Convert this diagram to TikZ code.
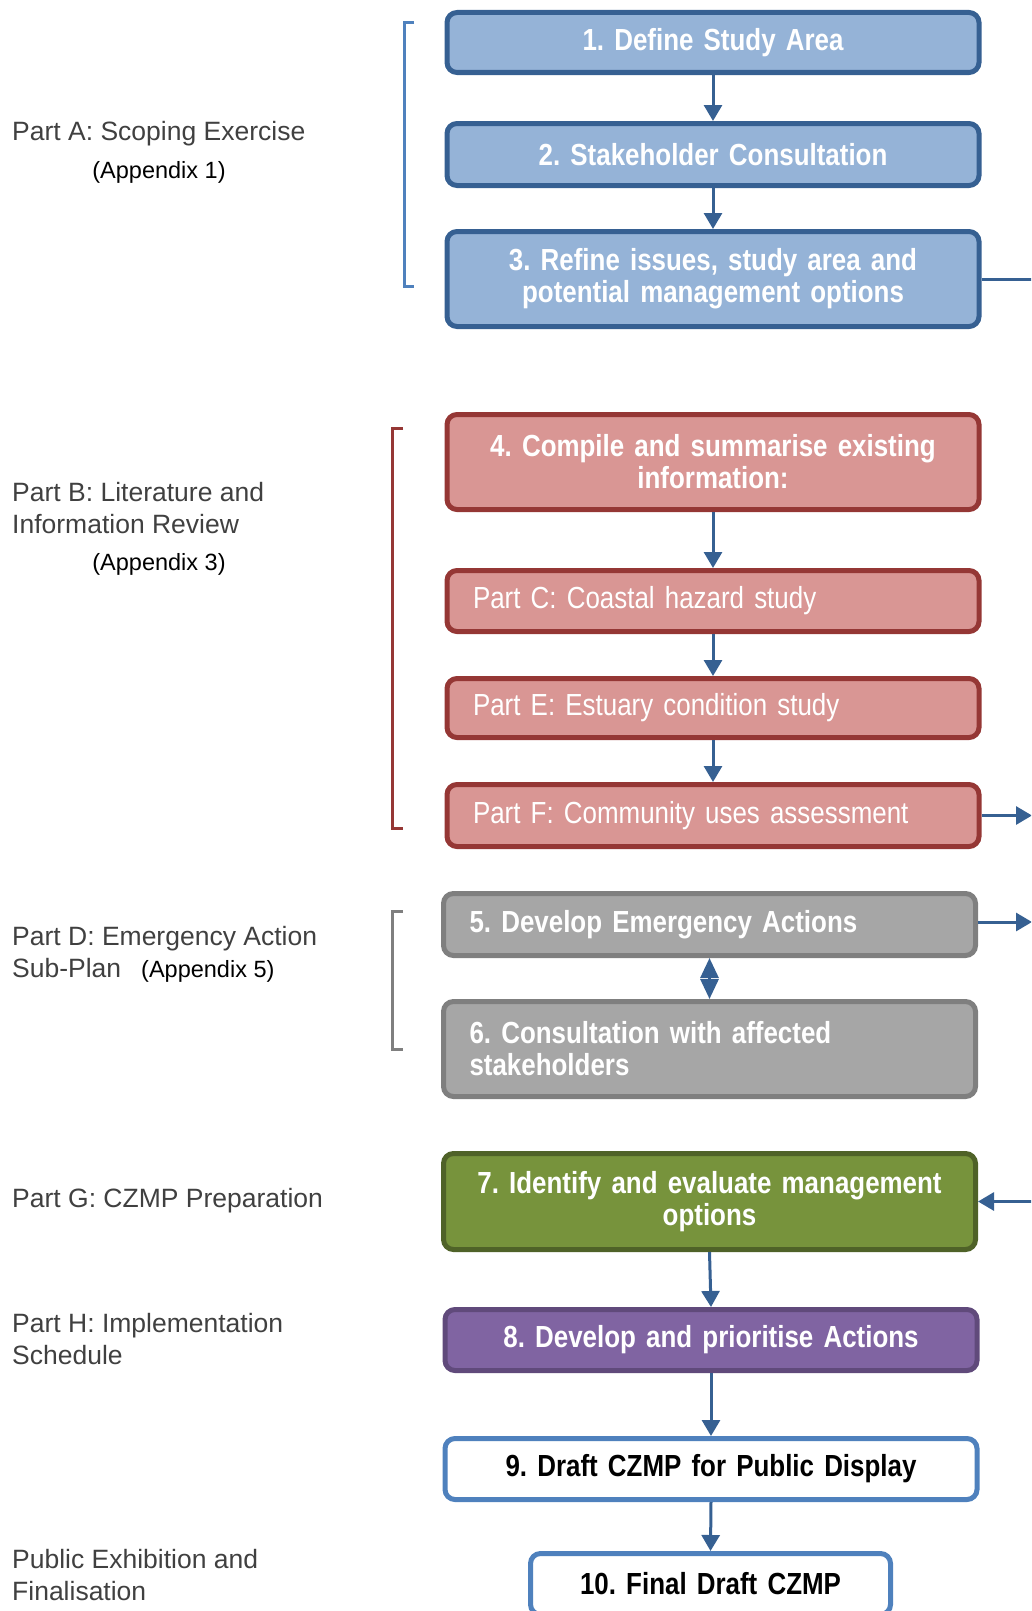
\documentclass[tikz,border=0pt]{standalone}
\usepackage{fontspec}
\setmainfont{Liberation Sans}
\newfontfamily\narrowfont[FakeStretch=0.85]{Liberation Sans}
\usetikzlibrary{arrows.meta}
\frenchspacing

\definecolor{scopeFill}{HTML}{95B3D7}
\definecolor{scopeLine}{HTML}{366092}
\definecolor{scopeBracket}{HTML}{4F81BD}
\definecolor{reviewFill}{HTML}{D99694}
\definecolor{reviewLine}{HTML}{953735}
\definecolor{emergFill}{HTML}{A6A6A6}
\definecolor{emergLine}{HTML}{7F7F7F}
\definecolor{prepFill}{HTML}{77933C}
\definecolor{prepLine}{HTML}{4F6228}
\definecolor{implFill}{HTML}{8064A2}
\definecolor{implLine}{HTML}{604A7B}
\definecolor{exhibLine}{HTML}{4F81BD}
\definecolor{arrowBlue}{HTML}{366092}
\definecolor{partGray}{HTML}{404040}

\tikzset{
  stage/.style={draw, line width=5pt, rounded corners=10pt, text width=480pt, inner xsep=26pt, inner ysep=0pt, align=center, text=white, font=\narrowfont\fontsize{30.5}{32}\selectfont\bfseries},
  scoping/.style={stage, fill=scopeFill, draw=scopeLine},
  review/.style={stage, fill=reviewFill, draw=reviewLine},
  study/.style={review, align=left, font=\narrowfont\fontsize{30.5}{32}\selectfont},
  emergency/.style={stage, fill=emergFill, draw=emergLine, align=left},
  prep/.style={stage, fill=prepFill, draw=prepLine},
  impl/.style={stage, fill=implFill, draw=implLine},
  exhib/.style={stage, fill=white, draw=exhibLine, text=black},
  flow/.style={draw=arrowBlue, line width=3pt, -{Triangle[length=16pt,width=18pt]}},
  twoway/.style={draw=arrowBlue, line width=3pt, {Triangle[length=20pt,width=18pt]}-{Triangle[length=20pt,width=18pt]}},
  link/.style={draw=arrowBlue, line width=3pt},
  part/.style={anchor=west, inner sep=0pt, align=left, text=partGray, font=\fontsize{26.5}{32}\selectfont},
  appx/.style={inner sep=0pt, font=\fontsize{23.5}{28}\selectfont},
  bracket/.style={line width=3pt}
}

\begin{document}
\begin{tikzpicture}[x=1pt,y=-1pt]
\useasboundingbox (0,0) rectangle (1031,1611);
\clip (0,0) rectangle (1031,1611);

% left hand labels
\node[part] (partA) at (12,134) {Part A: Scoping Exercise};
\node[appx] (appxA) at (159,172) {(Appendix 1)};
\node[part] (partB) at (12,508) {Part B: Literature and\\Information Review};
\node[appx] (appxB) at (159,564) {(Appendix 3)};
\node[part] (partD) at (12,954.5) {Part D: Emergency Action\\Sub-Plan\hspace{20pt}\textcolor{black}{\fontsize{23.5}{32}\selectfont(Appendix 5)}};
\node[part] (partG) at (12,1201) {Part G: CZMP Preparation};
\node[part] (partH) at (12,1339) {Part H: Implementation\\Schedule};
\node[part] (partX) at (12,1575) {Public Exhibition and\\Finalisation};

% brackets
\draw[bracket, draw=scopeBracket] (414,23) -- (404,23) -- (404,286) -- (414,286);
\draw[bracket, draw=reviewLine] (403,428) -- (392,428) -- (392,828) -- (403,828);
\draw[bracket, draw=emergLine] (403,911) -- (392,911) -- (392,1049) -- (403,1049);

% stages
\node[scoping, minimum height=60pt] (define) at (713,42.5) {1. Define Study Area};
\node[scoping, minimum height=62pt] (consult) at (713,154.5) {2. Stakeholder Consultation};
\node[scoping, minimum height=95pt] (refine) at (713,279) {3. Refine issues, study area and\\potential management options};

\node[review, minimum height=95pt] (compile) at (713,462) {4. Compile and summarise existing\\information:};
\node[study, minimum height=61pt] (hazard) at (713,601) {Part C: Coastal hazard study};
\node[study, minimum height=59pt] (estuary) at (713,708) {Part E: Estuary condition study};
\node[study, minimum height=62pt] (community) at (713,815.5) {Part F: Community uses assessment};

\node[emergency, minimum height=62pt] (actions) at (709.5,924.5) {5. Develop Emergency Actions};
\node[emergency, minimum height=95pt] (affected) at (709.5,1049) {6. Consultation with affected\\stakeholders};

\node[prep, minimum height=96pt] (options) at (709.5,1201.5) {7. Identify and evaluate management\\options};
\node[impl, minimum height=61pt] (prioritise) at (711,1340) {8. Develop and prioritise Actions};
\node[exhib, minimum height=61pt] (display) at (711,1469) {9. Draft CZMP for Public Display};
\node[exhib, minimum height=61pt, text width=308pt] (final) at (710.5,1584) {10. Final Draft CZMP};

% connectors
\draw[flow] (define.south) -- (consult.north);
\draw[flow] (consult.south) -- (refine.north);
\draw[flow] (compile.south) -- (hazard.north);
\draw[flow] (hazard.south) -- (estuary.north);
\draw[flow] (estuary.south) -- (community.north);
\draw[twoway] (actions.south) -- (affected.north);
\draw[flow] (options.south) -- (prioritise.north);
\draw[flow] (prioritise.south) -- (display.north);
\draw[flow] (display.south) -- (final.north);

% off to the right
\coordinate (exitA) at (1040,279);
\coordinate (exitF) at (1032,815.5);
\coordinate (exitD) at (1032,922);
\coordinate (entryG) at (1040,1201.5);
\draw[link] (refine.east) -- (exitA);
\draw[flow] (community.east) -- (exitF);
\draw[flow] (actions.east |- exitD) -- (exitD);
\draw[flow] (entryG) -- (options.east);

\end{tikzpicture}
\end{document}
